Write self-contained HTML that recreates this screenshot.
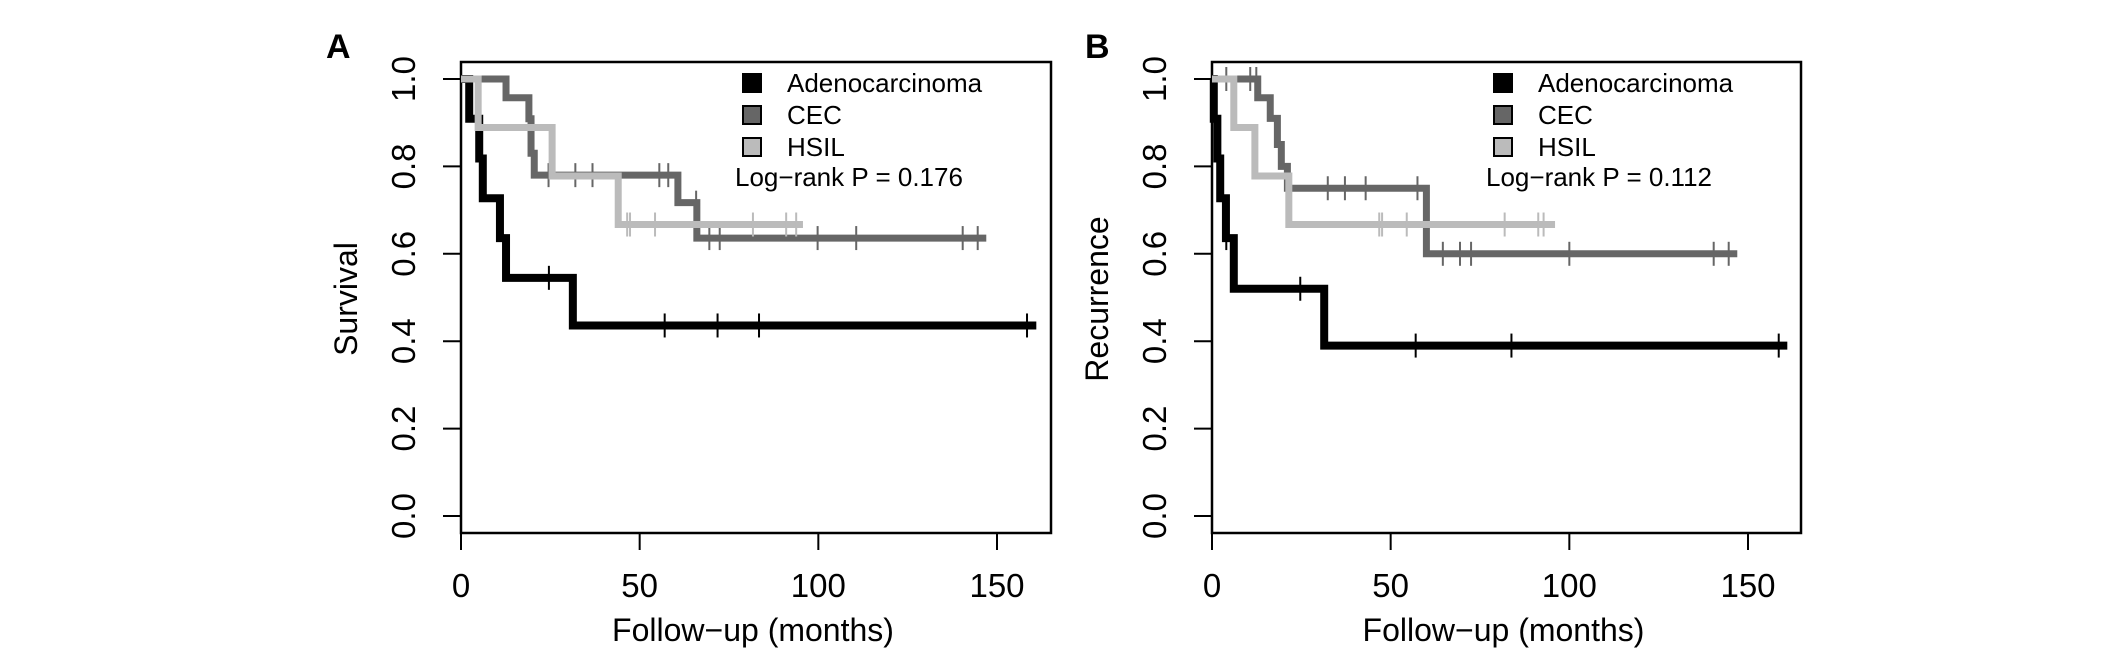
<!DOCTYPE html>
<html><head><meta charset="utf-8">
<style>
html,body{margin:0;padding:0;background:#fff;}
svg{display:block;}
text{font-family:"Liberation Sans",Arial,sans-serif;}
</style></head>
<body>
<svg id="fig" width="2126" height="653" viewBox="0 0 2126 653" xmlns="http://www.w3.org/2000/svg"></svg>
<script>
// ---- Panel A (survival) data ----
const aAdenoT = [0, 2.3, 5.1, 6.1, 10.9, 12.6, 31.3];
const aAdenoS = [1, 0.909, 0.818, 0.727, 0.636, 0.545, 0.436];
const aAdenoCensT = [24.6, 57, 71.8, 83.4, 158.4];
const aAdenoEnd = 161;
const aCecT = [0, 12.6, 19, 19.6, 20.5, 60.7, 66];
const aCecS = [1, 0.957, 0.909, 0.83, 0.78, 0.717, 0.636];
const aCecCensT = [24.5, 32, 36.8, 55.5, 58, 65.8, 69.5, 72.4, 99.8, 110.6, 140.4, 144.6];
const aCecEnd = 147;
const aHsilT = [0, 4.8, 25.5, 44];
const aHsilS = [1, 0.889, 0.778, 0.667];
const aHsilCensT = [46.5, 47.3, 54.3, 81.7, 91, 93.8];
const aHsilEnd = 95.7;
// ---- Panel B (recurrence) data ----
const bAdenoT = [0, 0.5, 1.5, 2.3, 3.9, 6.1, 31.4];
const bAdenoS = [1, 0.909, 0.818, 0.727, 0.636, 0.52, 0.39];
const bAdenoCensT = [4, 24.7, 57, 83.8, 158.6];
const bAdenoEnd = 161;
const bCecT = [0, 12.8, 16.3, 18.3, 19.4, 21.1, 60];
const bCecS = [1, 0.957, 0.91, 0.85, 0.8, 0.75, 0.6];
const bCecCensT = [4, 10.7, 12.4, 32.4, 37.2, 43, 57.5, 64.6, 69.4, 72.5, 100, 140.4, 144.6];
const bCecEnd = 147;
const bHsilT = [0, 6.1, 12, 21.5];
const bHsilS = [1, 0.889, 0.778, 0.667];
const bHsilCensT = [46.8, 47.6, 54.5, 81.9, 91.3, 92.8];
const bHsilEnd = 96;
const xTicks = [0, 50, 100, 150];
const yTicks = [0.0, 0.2, 0.4, 0.6, 0.8, 1.0];
const legendLabels = ["Adenocarcinoma", "CEC", "HSIL"];

const NS = "http://www.w3.org/2000/svg";
const svg = document.getElementById("fig");
function mk(tag, attrs, parent){ const e=document.createElementNS(NS,tag); for(const k in attrs) e.setAttribute(k,attrs[k]); (parent||svg).appendChild(e); return e; }

function panel(cfg){
  const g = mk("g",{});
  
  
  const x0=cfg.left, x150=cfg.left+536;
  const xs = v => x0 + (v/150)*(x150-x0);
  const ys = v => 516 - v*437;
  const fr = mk("rect",{x:cfg.left,y:62,width:cfg.right-cfg.left,height:471,fill:"none",stroke:"#000","stroke-width":2.5},g);
  
  
  xTicks.forEach(t=>{
    const l=mk("line",{x1:xs(t),x2:xs(t),y1:533,y2:550,stroke:"#000","stroke-width":2},g);
    
    
    const tx=mk("text",{x:xs(t),y:597,"font-size":33,"text-anchor":"middle"},g);
    tx.textContent=t;
    
    
  });
  yTicks.forEach(t=>{
    const l=mk("line",{x1:cfg.left,x2:cfg.left-18,y1:ys(t),y2:ys(t),stroke:"#000","stroke-width":2},g);
    
    
    const tx=mk("text",{x:0,y:0,"font-size":33,"text-anchor":"middle",transform:`translate(${cfg.left-46},${ys(t)}) rotate(-90)`},g);
    tx.textContent=t.toFixed(1);
    
    
  });
  const xt=mk("text",{x:(cfg.left+cfg.right)/2-3,y:641,"font-size":32,"text-anchor":"middle"},g);
  xt.textContent="Follow\u2212up (months)";
  
  
  const yt=mk("text",{x:0,y:0,"font-size":32,"text-anchor":"middle",transform:`translate(${cfg.left-104},299) rotate(-90)`},g);
  yt.textContent=cfg.ylabel;
  
  
  const pl=mk("text",{x:cfg.letterX,y:58,"font-size":34,"font-weight":"bold","font-family":"Liberation Serif, serif"},g);
  pl.textContent=cfg.letter;
  
  
  cfg.series.forEach(s=>{
    let d=`M${xs(s.t[0])},${ys(s.s[0])}`;
    for(let i=1;i<s.t.length;i++){ d+=` H${xs(s.t[i])} V${ys(s.s[i])}`; }
    d+=` H${xs(s.end)}`;
    const p=mk("path",{d:d,fill:"none",stroke:s.color,"stroke-width":s.w,"stroke-linejoin":"miter"},g);
    
    
    s.cens.forEach(c=>{
      let v=s.s[0]; for(let i=0;i<s.t.length;i++) if(s.t[i]<=c) v=s.s[i];
      const m=mk("line",{x1:xs(c),x2:xs(c),y1:ys(v)-12,y2:ys(v)+12,stroke:s.color,"stroke-width":2},g);
      
      
    });
  });
  const lx=cfg.legendX, cols=["#000","#666","#bbb"];
  legendLabels.forEach((lab,i)=>{
    const r=mk("rect",{x:lx,y:74+i*32,width:18,height:18,fill:cols[i],stroke:"#000","stroke-width":2},g);
    
    
    const tx=mk("text",{x:lx+44,y:92+i*32,"font-size":26},g);
    tx.textContent=lab;
    
    
  });
  const pv=mk("text",{x:lx-8,y:186,"font-size":26},g);
  pv.textContent=cfg.pval;
  
  
}

panel({name:"panel-a-survival",left:461,right:1051,letter:"A",letterX:326,ylabel:"Survival",legendX:743,pval:"Log\u2212rank P = 0.176",
  series:[
    {key:"adeno",t:aAdenoT,s:aAdenoS,cens:aAdenoCensT,end:aAdenoEnd,color:"#000",w:8},
    {key:"cec",t:aCecT,s:aCecS,cens:aCecCensT,end:aCecEnd,color:"#666",w:7},
    {key:"hsil",t:aHsilT,s:aHsilS,cens:aHsilCensT,end:aHsilEnd,color:"#bbb",w:7}
  ]});
panel({name:"panel-b-recurrence",left:1212,right:1801,letter:"B",letterX:1085,ylabel:"Recurrence",legendX:1494,pval:"Log\u2212rank P = 0.112",
  series:[
    {key:"adeno",t:bAdenoT,s:bAdenoS,cens:bAdenoCensT,end:bAdenoEnd,color:"#000",w:8},
    {key:"cec",t:bCecT,s:bCecS,cens:bCecCensT,end:bCecEnd,color:"#666",w:7},
    {key:"hsil",t:bHsilT,s:bHsilS,cens:bHsilCensT,end:bHsilEnd,color:"#bbb",w:7}
  ]});
</script>
</body></html>
